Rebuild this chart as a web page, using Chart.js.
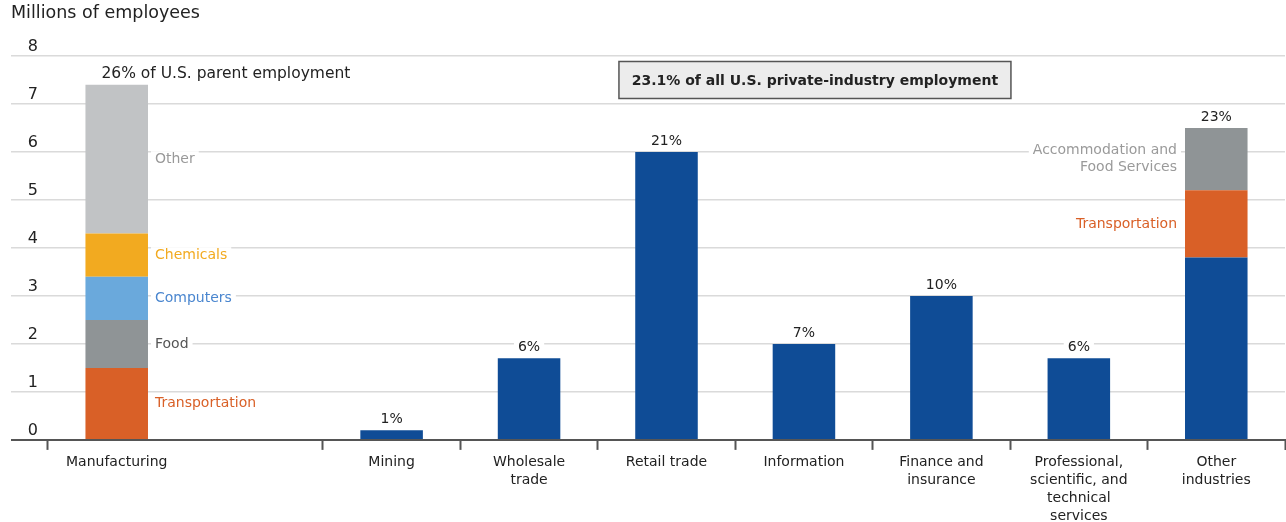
<!DOCTYPE html>
<html>
<head>
<meta charset="utf-8">
<script src="https://cdn.jsdelivr.net/npm/chart.js@4.4.1/dist/chart.umd.min.js"></script>
<style>
  html, body { margin: 0; padding: 0; background: #ffffff; }
  #wrap { width: 1286px; height: 522px; position: relative; }
</style>
</head>
<body>
<div id="wrap"><canvas id="c"></canvas></div>
<script>
// ---- Data ----
const categories = [
  ['Manufacturing'], [''], ['Mining'], ['Wholesale', 'trade'], ['Retail trade'],
  ['Information'], ['Finance and', 'insurance'],
  ['Professional,', 'scientific, and', 'technical', 'services'], ['Other', 'industries']
];
const industryEmployment = [null, null, 0.2, 1.7, 6.0, 2.0, 3.0, 1.7, 3.8];
const transportation      = [1.5, null, null, null, null, null, null, null, 1.4];
const food                = [1.0, null, null, null, null, null, null, null, null];
const computers           = [0.9, null, null, null, null, null, null, null, null];
const chemicals           = [0.9, null, null, null, null, null, null, null, null];
const otherManufacturing  = [3.1, null, null, null, null, null, null, null, null];
const accommodationFood   = [null, null, null, null, null, null, null, null, 1.3];
const shareLabels = ['26% of U.S. parent employment', '', '1%', '6%', '21%', '7%', '10%', '6%', '23%'];
const yTicks = [0, 1, 2, 3, 4, 5, 6, 7, 8];
const boxText = '23.1% of all U.S. private-industry employment';
const titleText = 'Millions of employees';

const FONT = "'DejaVu Sans', 'Open Sans', sans-serif";
const C_BLUE = '#0f4c96', C_ORANGE = '#d96027', C_FOOD = '#8f9496',
      C_COMP = '#6aa9dc', C_CHEM = '#f2aa20', C_OTHER = '#c1c3c5';

const datasets = [
  { label: 'Industry', data: industryEmployment, backgroundColor: C_BLUE, seg: null },
  { label: 'Transportation', data: transportation, backgroundColor: C_ORANGE,
    seg: { 0: { text: ['Transportation'], color: C_ORANGE, side: 'right' }, 8: { text: ['Transportation'], color: C_ORANGE, side: 'left' } } },
  { label: 'Food', data: food, backgroundColor: C_FOOD,
    seg: { 0: { text: ['Food'], color: '#555555', side: 'right' } } },
  { label: 'Computers', data: computers, backgroundColor: C_COMP,
    seg: { 0: { text: ['Computers'], color: '#4a86cf', side: 'right' } } },
  { label: 'Chemicals', data: chemicals, backgroundColor: C_CHEM,
    seg: { 0: { text: ['Chemicals'], color: C_CHEM, side: 'right' } } },
  { label: 'Other', data: otherManufacturing, backgroundColor: C_OTHER,
    seg: { 0: { text: ['Other'], color: '#999999', side: 'right' } } },
  { label: 'Accommodation and Food Services', data: accommodationFood, backgroundColor: C_FOOD,
    seg: { 8: { text: ['Accommodation and', 'Food Services'], color: '#9a9a9a', side: 'left' } } }
];

const annotate = {
  id: 'annotate',
  afterDatasetsDraw(chart) {
    const ctx = chart.ctx;
    const xs = chart.scales.x, ys = chart.scales.y;
    ctx.save();
    // segment labels
    ctx.font = '14px ' + FONT;
    ctx.textBaseline = 'middle';
    chart.data.datasets.forEach((ds, di) => {
      if (!ds.seg) return;
      const meta = chart.getDatasetMeta(di);
      Object.keys(ds.seg).forEach(k => {
        const el = meta.data[+k];
        const s = ds.seg[k];
        if (!el) return;
        const cy = (el.y + el.base) / 2;
        const lh = 17;
        const half = el.width / 2;
        s.text.forEach((t, li) => {
          const ty = cy + (li - (s.text.length - 1) / 2) * lh;
          const w = ctx.measureText(t).width;
          let tx;
          if (s.side === 'right') { tx = el.x + half + 7; ctx.textAlign = 'left'; }
          else { tx = el.x - half - 8; ctx.textAlign = 'right'; }
          const bx = s.side === 'right' ? tx - 4 : tx - w - 4;
          ctx.fillStyle = '#ffffff';
          ctx.fillRect(bx, ty - 8, w + 8, 16);
          ctx.fillStyle = s.color;
          ctx.fillText(t, tx, ty);
        });
      });
    });
    // share labels above bars
    ctx.textBaseline = 'middle';
    const n = chart.data.labels.length;
    for (let i = 0; i < n; i++) {
      const txt = shareLabels[i];
      if (!txt) continue;
      let topY = null, cx = null, bw = 0;
      chart.data.datasets.forEach((ds, di) => {
        const el = chart.getDatasetMeta(di).data[i];
        if (el && ds.data[i] != null) {
          if (topY === null || el.y < topY) topY = el.y;
          cx = el.x; bw = el.width;
        }
      });
      if (topY === null) continue;
      ctx.font = (i === 0 ? '15.5px ' : '14px ') + FONT;
      const w = ctx.measureText(txt).width;
      let tx = cx;
      if (i === 0) { ctx.textAlign = 'left'; tx = cx - bw / 2 + 16; }
      else ctx.textAlign = 'center';
      const bx = ctx.textAlign === 'left' ? tx - 4 : tx - w / 2 - 4;
      ctx.fillStyle = '#ffffff';
      ctx.fillRect(bx, topY - 11 - 8, w + 8, 16);
      ctx.fillStyle = '#222222';
      ctx.fillText(txt, tx, topY - 11);
    }
    // boxed annotation
    ctx.font = 'bold 14px ' + FONT;
    const bwid = 392, bh = 37;
    const bcx = xs.getPixelForValue(5) + 11;
    const bcy = ys.getPixelForValue(7.5);
    ctx.fillStyle = '#ececec';
    ctx.fillRect(bcx - bwid / 2, bcy - bh / 2, bwid, bh);
    ctx.strokeStyle = '#555555';
    ctx.lineWidth = 1.5;
    ctx.strokeRect(bcx - bwid / 2, bcy - bh / 2, bwid, bh);
    ctx.fillStyle = '#222222';
    ctx.textAlign = 'center';
    ctx.fillText(boxText, bcx, bcy + 1);
    ctx.restore();
  }
};

new Chart(document.getElementById('c'), {
  type: 'bar',
  data: { labels: categories, datasets: datasets },
  plugins: [annotate],
  options: {
    responsive: true,
    maintainAspectRatio: false,
    animation: false,
    layout: { padding: { left: 11, right: 1, top: 0, bottom: 0 } },
    datasets: { bar: { categoryPercentage: 1, barPercentage: 0.455, borderWidth: 0 } },
    plugins: {
      legend: { display: false },
      tooltip: { enabled: false },
      title: {
        display: true, text: titleText, align: 'start', color: '#222222',
        font: { family: FONT, size: 17.5, weight: 'normal' },
        padding: { top: 3, bottom: 32 }
      }
    },
    scales: {
      x: {
        stacked: true,
        offset: true,
        afterFit: (axis) => { axis.height -= 7; },
        grid: {
          offset: true,
          drawOnChartArea: false,
          drawTicks: true,
          tickLength: 10,
          tickWidth: 2,
          tickColor: (ctx) => ctx.index === 1 ? 'rgba(0,0,0,0)' : '#555555'
        },
        border: { display: true, color: '#555555', width: 2 },
        ticks: {
          color: '#222222', font: { family: FONT, size: 14, lineHeight: 1.27 },
          padding: 4, maxRotation: 0, autoSkip: false
        }
      },
      y: {
        stacked: true,
        min: 0, max: 8,
        afterBuildTicks: (axis) => { axis.ticks = yTicks.map(v => ({ value: v })); },
        afterFit: (axis) => { axis.width = 37; },
        border: { display: false },
        grid: {
          drawTicks: true,
          tickLength: 37,
          color: (ctx) => ctx.tick && ctx.tick.value === 0 ? '#555555' : '#dadada',
          tickColor: (ctx) => ctx.tick && ctx.tick.value === 0 ? '#555555' : '#dadada',
          lineWidth: (ctx) => ctx.tick && ctx.tick.value === 0 ? 2 : 1.5,
          tickWidth: (ctx) => ctx.tick && ctx.tick.value === 0 ? 2 : 1.5
        },
        ticks: {
          color: '#222222', font: { family: FONT, size: 16 },
          padding: -27, labelOffset: -9, crossAlign: 'near'
        }
      }
    }
  }
});
</script>
</body>
</html>
